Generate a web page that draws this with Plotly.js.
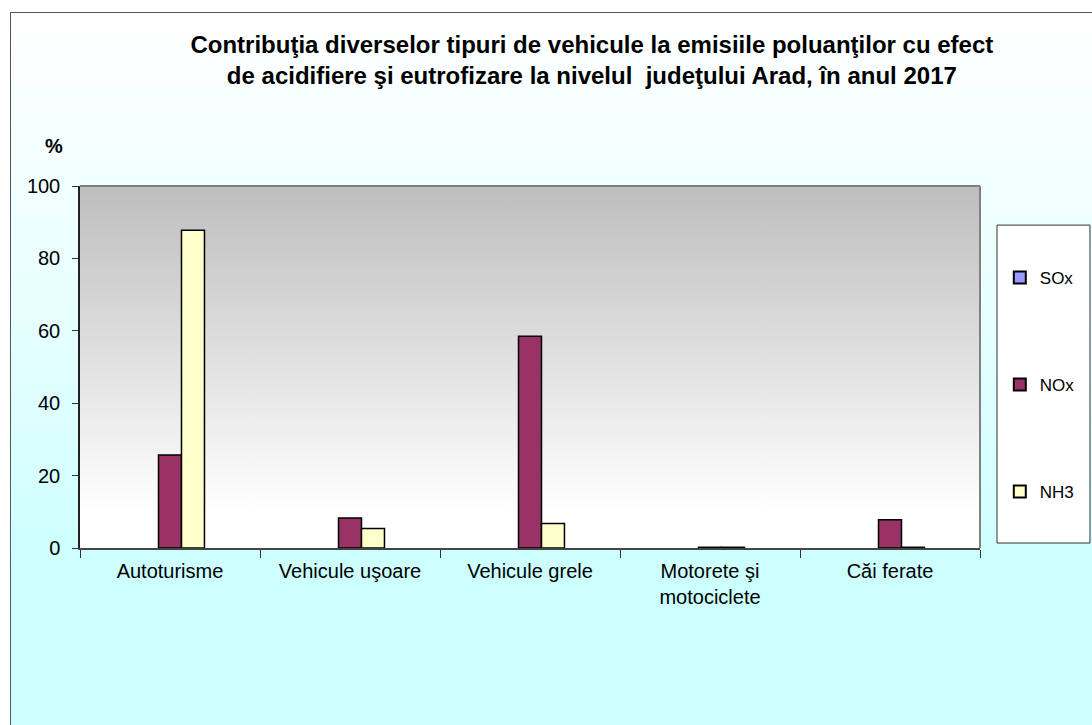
<!DOCTYPE html>
<html>
<head>
<meta charset="utf-8">
<script src="https://cdn.plot.ly/plotly-3.0.1.min.js"></script>
<style>
  html, body { margin: 0; padding: 0; background: #ffffff; }
  #frame { position: absolute; left: 10px; top: 12px; width: 1090px; height: 720px;
           border-left: 1px solid #555; border-top: 1px solid #555;
           background: linear-gradient(to bottom, #ffffff 0%, #e8ffff 40%, #ccffff 78%, #ccffff 100%); }
  #chart { position: absolute; left: 0; top: 0; width: 1092px; height: 725px; }
</style>
</head>
<body>
<div id="frame"></div>
<div id="chart"></div>
<script>
const categories = ["Autoturisme", "Vehicule uşoare", "Vehicule grele", "Motorete şi<br>motociclete", "Căi ferate"];
const seriesNames = ["SOx", "NOx", "NH3"];
const sox = [0, 0, 0, 0, 0];
const nox = [25.7, 8.3, 58.5, 0.2, 7.8];
const nh3 = [87.8, 5.4, 6.8, 0.2, 0.2];
const yTicks = [0, 20, 40, 60, 80, 100];
const colors = ["#9999FF", "#993366", "#FFFFCC"];

const FONT = "Liberation Sans, Arial, sans-serif";
const values = [sox, nox, nh3];
const traces = values.map((v, i) => ({
  type: "bar",
  name: seriesNames[i],
  x: categories,
  y: v,
  legendgroup: "g" + i,
  marker: {
    color: colors[i],
    line: { color: "#000000", width: v.map(val => (val === 0 ? 0 : 1.5)) }
  },
  hoverinfo: "x+y+name"
}));

const gradSvg = '<svg xmlns="http://www.w3.org/2000/svg" width="100" height="100" preserveAspectRatio="none">' +
  '<defs><linearGradient id="g" x1="0" y1="0" x2="0" y2="1">' +
  '<stop offset="0" stop-color="#BEBEBE"/><stop offset="0.9" stop-color="#FFFFFF"/><stop offset="1" stop-color="#FFFFFF"/>' +
  '</linearGradient></defs><rect width="100" height="100" fill="url(#g)"/></svg>';

const layout = {
  width: 1092, height: 725,
  margin: { l: 80, r: 112, t: 186, b: 177, autoexpand: false },
  paper_bgcolor: "rgba(0,0,0,0)",
  plot_bgcolor: "rgba(0,0,0,0)",
  font: { family: FONT, size: 20, color: "#000000" },
  title: {
    text: "<b>Contribuţia diverselor tipuri de vehicule la emisiile poluanţilor cu efect<br>de acidifiere şi eutrofizare la nivelul  judeţului Arad, în anul 2017</b>",
    font: { family: FONT, size: 24, color: "#000000" },
    xref: "container", x: 0.542, xanchor: "center",
    yref: "container", y: 0.927, yanchor: "top"
  },
  barmode: "group",
  bargap: 0.617,
  bargroupgap: 0,
  xaxis: {
    type: "category",
    tickson: "boundaries",
    ticks: "outside", ticklen: 8, tickcolor: "#333",
    ticklabelstandoff: 4,
    showline: true, linecolor: "#444", linewidth: 2,
    showgrid: false, zeroline: false,
    tickfont: { family: FONT, size: 20, color: "#000" },
    fixedrange: true
  },
  yaxis: {
    range: [0, 100],
    tickvals: yTicks,
    ticks: "outside", ticklen: 6, tickcolor: "#333",
    ticklabelstandoff: 8,
    showline: true, linecolor: "#222", linewidth: 1.5,
    showgrid: false, zeroline: false,
    tickfont: { family: FONT, size: 20, color: "#000" },
    fixedrange: true
  },
  images: [{
    source: "data:image/svg+xml;charset=utf-8," + encodeURIComponent(gradSvg),
    xref: "paper", yref: "paper", x: 0, y: 1, sizex: 1, sizey: 1,
    xanchor: "left", yanchor: "top", sizing: "stretch", layer: "below"
  }],
  shapes: [
    { type: "line", xref: "paper", yref: "paper", x0: 0, x1: 1, y0: 1, y1: 1, line: { color: "#808080", width: 2 } },
    { type: "line", xref: "paper", yref: "paper", x0: 1, x1: 1, y0: 0, y1: 1, line: { color: "#808080", width: 2 } },
    { type: "rect", xref: "paper", yref: "paper", x0: 1.0189, x1: 1.1222, y0: 0.0138, y1: 0.892,
      fillcolor: "#FFFFFF", line: { color: "#333", width: 1 }, layer: "below" }
  ],
  annotations: [{
    text: "<b>%</b>", xref: "paper", yref: "paper",
    x: (54 - 80) / 900, y: (548 - 146) / 362, xanchor: "center", yanchor: "middle",
    showarrow: false, font: { family: FONT, size: 20, color: "#000" }
  }],
  legend: {
    x: 1.022, y: 0.796, xanchor: "left", yanchor: "top",
    bgcolor: "rgba(0,0,0,0)", borderwidth: 0,
    traceorder: "grouped", tracegroupgap: 82,
    itemwidth: 30, itemsizing: "constant",
    font: { family: FONT, size: 17, color: "#000" }
  },
  showlegend: true
};

Plotly.newPlot("chart", traces, layout, { displayModeBar: false, staticPlot: false });
</script>
</body>
</html>
